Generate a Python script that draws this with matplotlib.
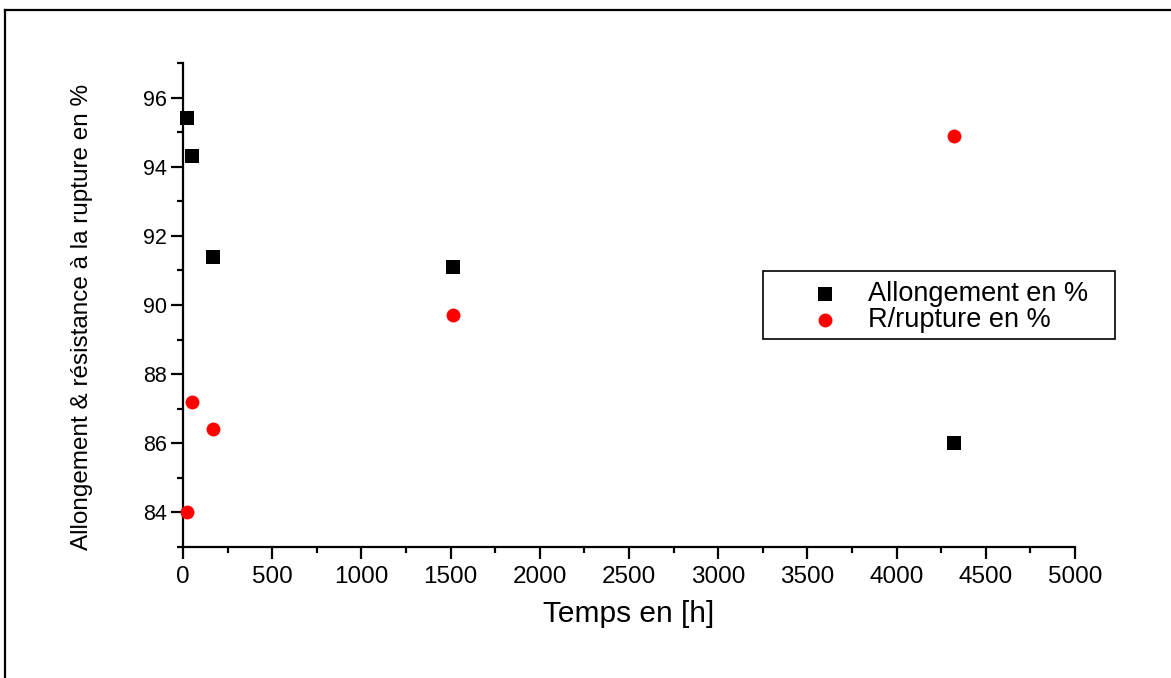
import matplotlib
matplotlib.use("Agg")
import matplotlib.pyplot as plt
from matplotlib.lines import Line2D
from matplotlib.patches import Rectangle
from matplotlib import font_manager

# Data
temps_h = [24, 48, 168, 1512, 4320]
allongement = [95.4, 94.3, 91.4, 91.1, 86.0]
r_rupture = [84.0, 87.2, 86.4, 89.7, 94.9]
x_ticks = [0, 500, 1000, 1500, 2000, 2500, 3000, 3500, 4000, 4500, 5000]
y_ticks = [84, 86, 88, 90, 92, 94, 96]

names = {f.name for f in font_manager.fontManager.ttflist}
narrow = 'Liberation Sans Narrow' if 'Liberation Sans Narrow' in names else 'Liberation Sans'
plt.rcParams['font.family'] = ['Liberation Sans', 'DejaVu Sans']

W, H = 1171, 678
fig = plt.figure(figsize=(W / 100, H / 100), dpi=100)
ax = fig.add_axes([183 / W, 131 / H, 892 / W, 484 / H])

ax.scatter(temps_h, allongement, marker='s', s=90, color='black', linewidths=0,
           label='Allongement en %', zorder=3, clip_on=False)
ax.scatter(temps_h, r_rupture, marker='o', s=100, color='#ff0000', linewidths=0,
           label='R/rupture en %', zorder=3, clip_on=False)

ax.set_xlim(0, 5000)
ax.set_ylim(83, 97)
ax.set_xticks(x_ticks)
ax.set_xticks([250 + 500 * i for i in range(10)], minor=True)
ax.set_yticks(y_ticks)
ax.set_yticks([83, 85, 87, 89, 91, 93, 95, 97], minor=True)
for s in ['top', 'right']:
    ax.spines[s].set_visible(False)
for s in ['left', 'bottom']:
    ax.spines[s].set_linewidth(1.6)
ax.tick_params(which='major', direction='out', length=8.5, width=1.6)
ax.tick_params(which='minor', direction='out', length=4.3, width=1.6)
ax.tick_params(axis='x', labelsize=17.5, pad=5)
ax.tick_params(axis='y', labelsize=15.5, pad=3)

ax.set_xlabel('Temps en [h]', fontsize=21.5, labelpad=9)
fig.text(82 / W, 1 - 317 / H, 'Allongement & résistance à la rupture en %',
         rotation=90, ha='center', va='center', fontsize=17.5, family=narrow)

leg = ax.legend(loc='upper left', bbox_to_anchor=(763 / W, 1 - 273 / H),
                bbox_transform=fig.transFigure, fontsize=19.5, frameon=False,
                borderaxespad=0, borderpad=0.3, handlelength=3.95,
                handletextpad=-0.37, labelspacing=0.0, markerscale=1.0)

fig.add_artist(Rectangle((763 / W, 1 - 339 / H), (1115 - 763) / W, 68 / H,
                         transform=fig.transFigure, fill=False,
                         edgecolor='black', lw=1.2))
fig.add_artist(Line2D([5 / W, 1], [1 - 10 / H, 1 - 10 / H], color='black', lw=1.6,
                      transform=fig.transFigure))
fig.add_artist(Line2D([5 / W, 5 / W], [1 - 10 / H, 0], color='black', lw=1.6,
                      transform=fig.transFigure))

fig.savefig('out.png', dpi=100)
